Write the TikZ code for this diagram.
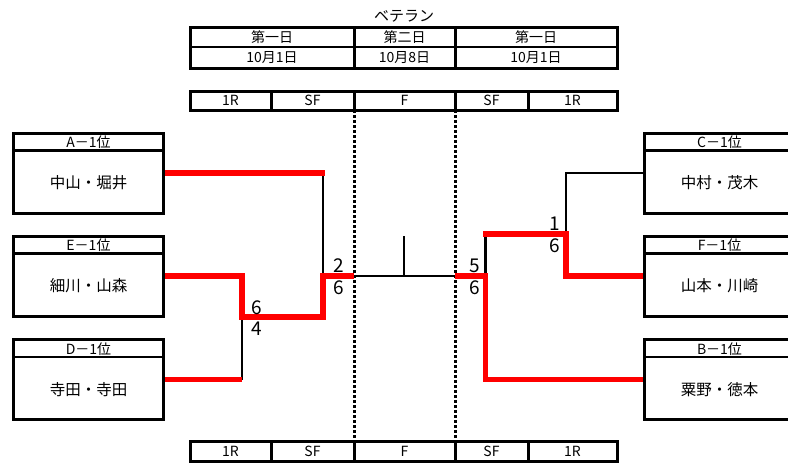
\documentclass[tikz,border=0pt]{standalone}
\usepackage{fontspec}
\setmainfont{Noto Sans CJK JP}
\begin{document}
\begin{tikzpicture}[x=1pt,y=-1pt,
  team/.style={draw,line width=3pt,minimum width=150pt,minimum height=80pt,inner sep=0pt},
  rank/.style={font=\fontsize{14}{16}\selectfont,inner sep=0pt},
  pair/.style={font=\fontsize{15.5}{17}\selectfont,inner sep=0pt},
  score/.style={font=\fontsize{19}{21}\selectfont,inner sep=0pt},
  lose/.style={line width=2.8pt},
  win/.style={line width=5.5pt,red},
  tbl/.style={line width=3pt},
  day/.style={dash pattern=on 3pt off 2pt,line width=3pt}]
\useasboundingbox (0,0) rectangle (788,464);
\clip (0,0) rectangle (788,464);
% title and schedule
\node[rank,font=\fontsize{15}{17}\selectfont] (title) at (404,16) {ベテラン};
\draw[tbl] (190,27) rectangle (617,68);
\draw[line width=2.2pt] (190,47) -- (617,47);
\draw[tbl] (354,27) -- (354,68);
\draw[tbl] (455,27) -- (455,68);
\node[rank] (d1) at (272,37) {第一日};
\node[rank] (d2) at (404.5,37) {第二日};
\node[rank] (d3) at (536,37) {第一日};
\node[rank] (t1) at (272,57.5) {10月1日};
\node[rank] (t2) at (404.5,57.5) {10月8日};
\node[rank] (t3) at (536,57.5) {10月1日};
% rounds, top and bottom
\draw[tbl] (190,91) rectangle (617,110);
\draw[tbl] (271,91) -- (271,110);
\draw[tbl] (354,91) -- (354,110);
\draw[tbl] (455,91) -- (455,110);
\draw[tbl] (528,91) -- (528,110);
\node[rank] (r1) at (230.5,100.5) {1R};
\node[rank] (r2) at (312.5,100.5) {SF};
\node[rank] (r3) at (404.5,100.5) {F};
\node[rank] (r4) at (491.5,100.5) {SF};
\node[rank] (r5) at (572.5,100.5) {1R};
\draw[tbl] (190,441) rectangle (617,461);
\draw[tbl] (271,441) -- (271,461);
\draw[tbl] (354,441) -- (354,461);
\draw[tbl] (455,441) -- (455,461);
\draw[tbl] (528,441) -- (528,461);
\node[rank] (b1) at (230.5,451) {1R};
\node[rank] (b2) at (312.5,451) {SF};
\node[rank] (b3) at (404.5,451) {F};
\node[rank] (b4) at (491.5,451) {SF};
\node[rank] (b5) at (572.5,451) {1R};
\draw[day] (354,110) -- (354,441);
\draw[day] (455,110) -- (455,441);
% teams, left
\node[team] (A) at (88.5,173) {};
\draw[line width=2.8pt] ([yshift=-19pt]A.north west) -- ([yshift=-19pt]A.north east);
\node[rank] at ([yshift=-11pt]A.north) {A－1位};
\node[pair] at ([yshift=-10pt]A.center) {中山・堀井};
\node[team] (E) at (88.5,276) {};
\draw[line width=2.8pt] ([yshift=-19pt]E.north west) -- ([yshift=-19pt]E.north east);
\node[rank] at ([yshift=-11pt]E.north) {E－1位};
\node[pair] at ([yshift=-10pt]E.center) {細川・山森};
\node[team] (D) at (88.5,379.5) {};
\draw[line width=2.8pt] ([yshift=-19pt]D.north west) -- ([yshift=-19pt]D.north east);
\node[rank] at ([yshift=-11pt]D.north) {D－1位};
\node[pair] at ([yshift=-10pt]D.center) {寺田・寺田};
% teams, right
\node[team] (C) at (719.5,173) {};
\draw[line width=2.8pt] ([yshift=-19pt]C.north west) -- ([yshift=-19pt]C.north east);
\node[rank] at ([yshift=-11pt]C.north) {C－1位};
\node[pair] at ([yshift=-10pt]C.center) {中村・茂木};
\node[team] (F) at (719.5,276) {};
\draw[line width=2.8pt] ([yshift=-19pt]F.north west) -- ([yshift=-19pt]F.north east);
\node[rank] at ([yshift=-11pt]F.north) {F－1位};
\node[pair] at ([yshift=-10pt]F.center) {山本・川崎};
\node[team] (B) at (719.5,379.5) {};
\draw[line width=2.8pt] ([yshift=-19pt]B.north west) -- ([yshift=-19pt]B.north east);
\node[rank] at ([yshift=-11pt]B.north) {B－1位};
\node[pair] at ([yshift=-10pt]B.center) {粟野・徳本};
% bracket, left
\coordinate (sfL) at (323,276);
\coordinate (qfL) at (242,317);
\coordinate (fL) at (354,276);
\draw[lose] (qfL) -- (242,379.5);
\draw[lose] (323,173) -- (sfL);
\draw[win] (D.east) -- (242,379.5);
\draw[win] (A.east) -- (325,173);
\draw[win] (E.east) -- (242,276) -- (qfL) -- (323,317) -- (sfL) -- (fL);
% final
\coordinate (fR) at (455,276);
\draw[lose] (fL) -- (fR);
\draw[lose] (404,236) -- (404,276);
% bracket, right
\coordinate (sfR) at (485.5,276);
\coordinate (qfR) at (566,234);
\draw[lose] (C.west) -- (566,173) -- (qfR);
\draw[lose] (485.5,234) -- (sfR);
\draw[win] (F.west) -- (566,276) -- (qfR) -- (483,234);
\draw[win] (fR) -- (sfR) -- (485.5,379.5) -- (B.west);
% scores
\node[score] (s1) at (257,308) {6};
\node[score] (s2) at (257,329) {4};
\node[score] (s3) at (339,266) {2};
\node[score] (s4) at (339,288) {6};
\node[score] (s5) at (555,224) {1};
\node[score] (s6) at (555,246) {6};
\node[score] (s7) at (475,266) {5};
\node[score] (s8) at (475,288) {6};
\end{tikzpicture}
\end{document}
